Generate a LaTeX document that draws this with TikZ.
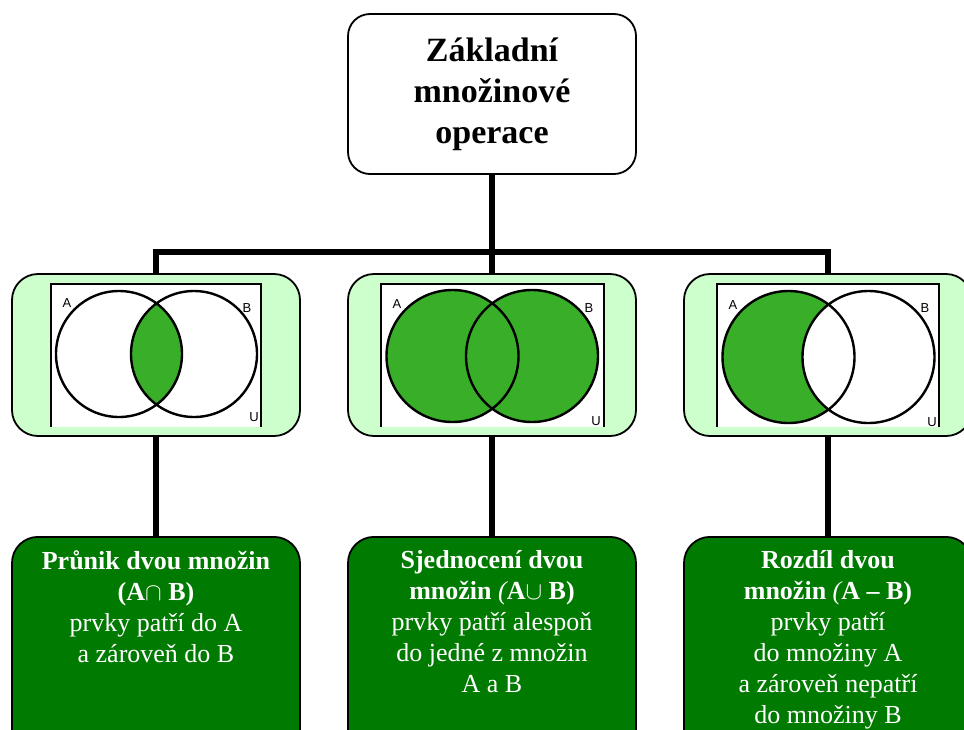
\documentclass[tikz,border=0pt]{standalone}
\usepackage{fontspec}
\setmainfont{Liberation Serif}
\newfontfamily\vennfont{Liberation Sans}
\definecolor{panelgreen}{HTML}{CCFFCC}
\definecolor{setgreen}{HTML}{38AE29}
\definecolor{opgreen}{HTML}{007A00}
\begin{document}
\begin{tikzpicture}[x=1pt,y=-1pt,
  titlebox/.style={draw, line width=1.8pt, rounded corners=22pt, fill=white,
    minimum width=288pt, minimum height=160pt, inner sep=0pt, align=center,
    font=\fontsize{34}{41}\selectfont\bfseries},
  vennbox/.style={draw, line width=1.8pt, rounded corners=26pt, fill=panelgreen,
    minimum width=288pt, minimum height=162pt, inner sep=0pt},
  opbox/.style={draw, line width=1.8pt, rounded corners=26pt, fill=opgreen,
    minimum width=288pt, minimum height=230pt, inner sep=0pt, anchor=north},
  optext/.style={text=white, align=center, anchor=north, inner sep=0pt,
    font=\fontsize{26}{31}\selectfont},
  link/.style={line width=5.5pt, line join=miter},
  frameline/.style={line width=1.6pt},
  vennset/.style={line width=2.4pt},
  setlabel/.style={font=\vennfont\fontsize{13}{13}\selectfont, inner sep=0pt}]
\useasboundingbox (0,0) rectangle (964,729);
\clip (0,0) rectangle (964,729);

% boxes
\node[titlebox] (top) at (492,94) {Základní\\množinové\\operace};
\node[vennbox] (m1) at (156,355) {};
\node[vennbox] (m2) at (492,355) {};
\node[vennbox] (m3) at (828,355) {};
\node[opbox] (b1) at (156,536) {};
\node[opbox] (b2) at (492,536) {};
\node[opbox] (b3) at (828,536) {};

% connectors
\coordinate (hub) at (492,252);
\draw[link] (top.south) -- (m2.north);
\draw[link] (m1.north) |- (hub) -| (m3.north);
\draw[link] (m1.south) -- (b1.north);
\draw[link] (m2.south) -- (b2.north);
\draw[link] (m3.south) -- (b3.north);

% intersection A and B
\fill[white] (51,284) rectangle (261,427);
\draw[frameline] (51,427) -- (51,284) -- (261,284) -- (261,427);
\begin{scope}
  \clip (119,354) circle (63pt);
  \fill[setgreen] (194,354) circle (63pt);
\end{scope}
\draw[vennset] (119,354) circle (63pt) (194,354) circle (63pt);
\node[setlabel] (a1) at (67,303) {A};
\node[setlabel] (s1) at (247,308) {B};
\node[setlabel] (u1) at (254,417) {U};

% union A and B
\fill[white] (381,284) rectangle (604,427);
\draw[frameline] (381,427) -- (381,284) -- (604,284) -- (604,427);
\fill[setgreen] (452.5,356) circle (66pt) (532,356) circle (66pt);
\draw[vennset] (452.5,356) circle (66pt) (532,356) circle (66pt);
\node[setlabel] (a2) at (397,304) {A};
\node[setlabel] (s2) at (589,308) {B};
\node[setlabel] (u2) at (596,421) {U};

% difference A minus B
\fill[white] (717,284) rectangle (939,427);
\draw[frameline] (717,427) -- (717,284) -- (939,284) -- (939,427);
\fill[setgreen] (788.5,357) circle (66pt);
\begin{scope}
  \clip (788.5,357) circle (66pt);
  \fill[white] (868.5,357) circle (66pt);
\end{scope}
\draw[vennset] (788.5,357) circle (66pt) (868.5,357) circle (66pt);
\node[setlabel] (a3) at (733,305) {A};
\node[setlabel] (s3) at (925,308) {B};
\node[setlabel] (u3) at (932,422) {U};

% descriptions
\node[optext] (t1) at ([yshift=-14pt]b1.north)
  {\textbf{Průnik dvou množin}\\\textbf{(A$\cap$ B)}\\prvky patří do A\\a zároveň do B};
\node[optext] (t2) at ([yshift=-14pt]b2.north)
  {\textbf{Sjednocení dvou}\\\textbf{množin {\mdseries\itshape(}A$\cup$ B)}\\prvky patří alespoň\\do jedné z množin\\A a B};
\node[optext] (t3) at ([yshift=-14pt]b3.north)
  {\textbf{Rozdíl dvou}\\\textbf{množin {\mdseries\itshape(}A – B)}\\prvky patří\\do množiny A\\a zároveň nepatří\\do množiny B};
\end{tikzpicture}
\end{document}
